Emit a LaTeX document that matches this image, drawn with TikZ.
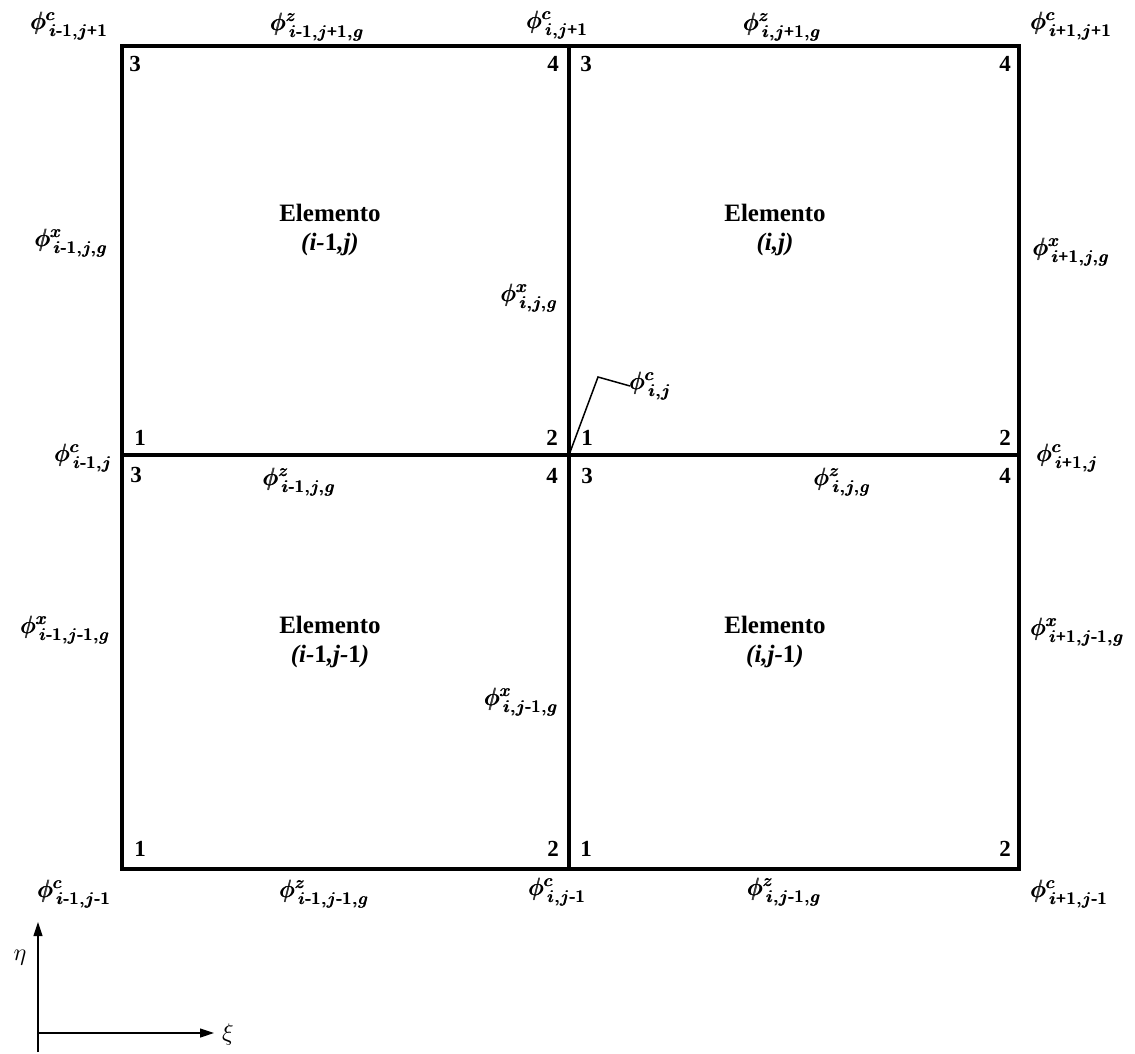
\documentclass[tikz,border=0pt]{standalone}
\usepackage{amsmath}
\usepackage{graphicx}
\usepackage{fontspec}
\setmainfont{Liberation Serif}
\usetikzlibrary{arrows.meta}
\newcommand{\myhy}{\text{-}}
\newcommand{\mypl}{\text{+}}
\newcommand{\fluxlab}[2]{\scalebox{2.5}{$\pmb{\phi}^{\pmb{#1}}_{\,\pmb{#2}}$}}
\begin{document}
\begin{tikzpicture}[x=1pt,y=-1pt,
  edge/.style={line width=3.5pt},
  numtxt/.style={font=\fontsize{23}{23}\selectfont\bfseries, inner sep=0},
  fluxtxt/.style={inner sep=0},
  elemtxt/.style={font=\fontsize{25}{29}\selectfont\bfseries, align=center},
  axisline/.style={line width=1.2pt, -{Triangle[length=14pt,width=9pt]}}]
\useasboundingbox (0,0) rectangle (1135,1054);
\fill[white] (0,0) rectangle (1135,1054);
% grid
\coordinate (TL) at (122,46);
\coordinate (TR) at (1019,46);
\coordinate (BL) at (122,869);
\coordinate (BR) at (1019,869);
\coordinate (TM) at (569,46);
\coordinate (BM) at (569,869);
\coordinate (ML) at (122,455);
\coordinate (MR) at (1019,455);
\coordinate (C) at (569,455);
\draw[edge] (TL) rectangle (BR);
\draw[edge] (TM) -- (BM);
\draw[edge] (ML) -- (MR);
% local node numbers
\node[numtxt] (n1) at (135,64) {3};
\node[numtxt] (n2) at (553,64) {4};
\node[numtxt] (n3) at (586,64) {3};
\node[numtxt] (n4) at (1005,64) {4};
\node[numtxt] (n5) at (140,438) {1};
\node[numtxt] (n6) at (552,438) {2};
\node[numtxt] (n7) at (587,438) {1};
\node[numtxt] (n8) at (1005,438) {2};
\node[numtxt] (n9) at (136,475) {3};
\node[numtxt] (n10) at (552,476) {4};
\node[numtxt] (n11) at (587,476) {3};
\node[numtxt] (n12) at (1005,476) {4};
\node[numtxt] (n13) at (140,849) {1};
\node[numtxt] (n14) at (553,849) {2};
\node[numtxt] (n15) at (586,849) {1};
\node[numtxt] (n16) at (1005,849) {2};
% element labels
\node[elemtxt] (e1) at (330,230) {Elemento\\\textit{(i-}1\textit{,j)}};
\node[elemtxt] (e2) at (775,230) {Elemento\\\textit{(i,j)}};
\node[elemtxt] (e3) at (330,642) {Elemento\\\textit{(i-}1\textit{,j-}1\textit{)}};
\node[elemtxt] (e4) at (775,642) {Elemento\\\textit{(i,j-}1\textit{)}};
% flux labels
\node[fluxtxt] (l1) at (70,26) {\fluxlab{c}{i\myhy1,j\mypl1}};
\node[fluxtxt] (l2) at (318,27) {\fluxlab{z}{i\myhy1,j\mypl1,g}};
\node[fluxtxt] (l3) at (558,25) {\fluxlab{c}{i,j\mypl1}};
\node[fluxtxt] (l4) at (783,27) {\fluxlab{z}{i,j\mypl1,g}};
\node[fluxtxt] (l5) at (1072,26) {\fluxlab{c}{i\mypl1,j\mypl1}};
\node[fluxtxt] (l6) at (72,243) {\fluxlab{x}{i\myhy1,j,g}};
\node[fluxtxt] (l7) at (530,298) {\fluxlab{x}{i,j,g}};
\node[fluxtxt] (l8) at (1072,252) {\fluxlab{x}{i\mypl1,j,g}};
\node[fluxtxt, anchor=west] (l9) at (630,386) {\fluxlab{c}{i,j}};
\node[fluxtxt] (l10) at (84,458) {\fluxlab{c}{i\myhy1,j}};
\node[fluxtxt] (l11) at (300,482) {\fluxlab{z}{i\myhy1,j,g}};
\node[fluxtxt] (l12) at (843,482) {\fluxlab{z}{i,j,g}};
\node[fluxtxt] (l13) at (1068,458) {\fluxlab{c}{i\mypl1,j}};
\node[fluxtxt] (l14) at (66,630) {\fluxlab{x}{i\myhy1,j\myhy1,g}};
\node[fluxtxt] (l15) at (522,702) {\fluxlab{x}{i,j\myhy1,g}};
\node[fluxtxt] (l16) at (1078,632) {\fluxlab{x}{i\mypl1,j\myhy1,g}};
\node[fluxtxt] (l17) at (75,894) {\fluxlab{c}{i\myhy1,j\myhy1}};
\node[fluxtxt] (l18) at (325,894) {\fluxlab{z}{i\myhy1,j\myhy1,g}};
\node[fluxtxt] (l19) at (558,892) {\fluxlab{c}{i,j\myhy1}};
\node[fluxtxt] (l20) at (785,892) {\fluxlab{z}{i,j\myhy1,g}};
\node[fluxtxt] (l21) at (1070,894) {\fluxlab{c}{i\mypl1,j\myhy1}};
% leader
\coordinate (bend) at (598,377);
\draw[line width=1.5pt] (C) -- (bend) -- (l9.west);
% axes
\coordinate (O) at (38,1033);
\coordinate (ybot) at (38,1052);
\coordinate (ytop) at (38,922);
\coordinate (xend) at (214,1033);
\draw[axisline] (ybot) -- (ytop);
\draw[axisline] (O) -- (xend);
\node[inner sep=0] (eta) at (20,958) {\scalebox{2.4}{$\eta$}};
\node[inner sep=0] (xi) at (228,1034) {\scalebox{2.4}{$\xi$}};
\end{tikzpicture}
\end{document}
